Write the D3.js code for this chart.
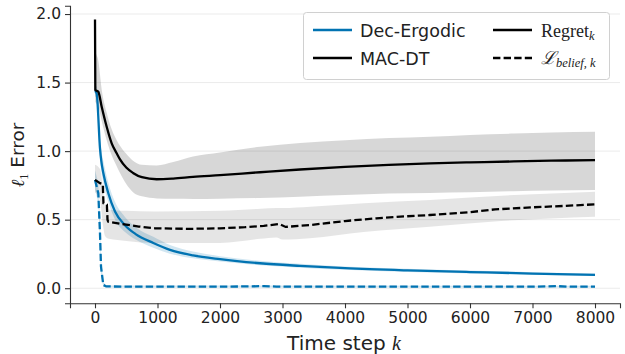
<!DOCTYPE html>
<html>
<head>
<meta charset="utf-8">
<script src="https://cdn.jsdelivr.net/npm/d3@7/dist/d3.min.js"></script>
<style>
  html, body { margin: 0; padding: 0; background: #fff; }
  svg { display: block; }
  .tick text { font-family: "DejaVu Sans", sans-serif; }
</style>
</head>
<body>
<svg id="chart" width="625" height="354"></svg>
<script>
// ---- data ----
// MAC-DT regret (mean, with band)
const kMacRegret = [0, 5, 53, 107, 187, 267, 347, 400, 500, 608, 750, 987, 1250, 1568, 2000, 2640, 3280, 4000, 4700, 5360, 6000, 6700, 7300, 8000];
const macRegret  = [1.96, 1.446, 1.433, 1.324, 1.178, 1.057, 0.984, 0.94, 0.88, 0.841, 0.81, 0.795, 0.80, 0.812, 0.825, 0.846, 0.866, 0.885, 0.90, 0.911, 0.918, 0.925, 0.93, 0.935];
const macRegretLo = [1.96, 1.36, 1.33, 1.22, 1.08, 0.97, 0.89, 0.84, 0.76, 0.70, 0.67, 0.655, 0.652, 0.651, 0.653, 0.658, 0.668, 0.68, 0.69, 0.695, 0.70, 0.708, 0.713, 0.717];
const macRegretHi = [1.96, 1.74, 1.66, 1.45, 1.28, 1.16, 1.08, 1.04, 0.98, 0.93, 0.90, 0.895, 0.92, 0.96, 0.99, 1.032, 1.06, 1.08, 1.095, 1.105, 1.118, 1.128, 1.136, 1.142];

// MAC-DT belief loss
const kMacBelief = [0, 80, 125, 135, 190, 200, 210, 400, 700, 960, 1500, 2000, 2400, 2700, 2950, 3050, 3440, 4000, 4500, 5000, 5360, 6000, 6400, 7000, 7500, 8000];
const macBelief  = [0.79, 0.766, 0.76, 0.62, 0.61, 0.50, 0.486, 0.47, 0.45, 0.437, 0.433, 0.437, 0.445, 0.455, 0.468, 0.447, 0.461, 0.49, 0.51, 0.525, 0.534, 0.555, 0.575, 0.59, 0.60, 0.612];
const kMacBeliefBand = [0, 80, 130, 160, 220, 500, 960, 2000, 2650, 2900, 3000, 3440, 4300, 5360, 6500, 8000];
const macBeliefLo = [0.70, 0.64, 0.45, 0.38, 0.36, 0.345, 0.33, 0.33, 0.36, 0.37, 0.355, 0.365, 0.41, 0.449, 0.49, 0.522];
const macBeliefHi = [0.90, 0.87, 0.72, 0.60, 0.575, 0.565, 0.56, 0.565, 0.58, 0.585, 0.585, 0.595, 0.62, 0.644, 0.675, 0.704];

// Dec-Ergodic regret
const kDecRegret = [0, 27, 80, 100, 133, 213, 320, 480, 650, 933, 1200, 1568, 2000, 2640, 3280, 4000, 5000, 6000, 7000, 8000];
const decRegret  = [1.44, 1.42, 1.02, 0.93, 0.84, 0.693, 0.56, 0.46, 0.395, 0.33, 0.28, 0.24, 0.212, 0.182, 0.163, 0.146, 0.13, 0.118, 0.107, 0.098];
const decRegretLo = [1.40, 1.37, 0.95, 0.86, 0.77, 0.63, 0.50, 0.41, 0.355, 0.295, 0.252, 0.218, 0.194, 0.167, 0.15, 0.134, 0.119, 0.108, 0.098, 0.089];
const decRegretHi = [1.48, 1.47, 1.10, 1.01, 0.93, 0.77, 0.63, 0.52, 0.445, 0.375, 0.315, 0.268, 0.234, 0.2, 0.178, 0.159, 0.142, 0.129, 0.117, 0.108];

// Dec-Ergodic belief loss
const kDecBelief = [0, 53, 80, 96, 133, 180, 500, 1000, 2000, 2700, 2900, 4000, 5000, 6000, 7000, 7400, 7600, 8000];
const decBelief  = [0.79, 0.693, 0.40, 0.157, 0.024, 0.013, 0.012, 0.012, 0.011, 0.015, 0.012, 0.011, 0.011, 0.012, 0.011, 0.015, 0.011, 0.011];
const kDecBeliefBand = [0, 53, 80, 96, 133, 180, 8000];
const decBeliefLo = [0.72, 0.62, 0.32, 0.10, 0.01, 0.005, 0.005];
const decBeliefHi = [0.86, 0.77, 0.50, 0.22, 0.045, 0.02, 0.018];

const yTicks = [0.0, 0.5, 1.0, 1.5, 2.0];
const xTicks = [0, 1000, 2000, 3000, 4000, 5000, 6000, 7000, 8000];

// ---- layout ----
const svg = d3.select("#chart");
const blue = "#0173b2";
const x = d3.scaleLinear().domain([-400, 8400]).range([70, 620]);
const y = d3.scaleLinear().domain([-0.11, 2.06]).range([303.3, 5.8]);

const zip = (ks, vs) => ks.map((k, i) => [k, vs[i]]);
const zipBand = (ks, lo, hi) => ks.map((k, i) => [k, lo[i], hi[i]]);

// horizontal grid
svg.append("g").selectAll("line").data(yTicks).join("line")
  .attr("x1", x.range()[0]).attr("x2", x.range()[1])
  .attr("y1", d => y(d)).attr("y2", d => y(d))
  .attr("stroke", "#ebebeb").attr("stroke-width", 1);

const area = (curve) => d3.area().x(d => x(d[0])).y0(d => y(d[1])).y1(d => y(d[2])).curve(curve);
const line = (curve) => d3.line().x(d => x(d[0])).y(d => y(d[1])).curve(curve);

const plot = svg.append("g");

// bands
plot.append("path").datum(zipBand(kDecRegret, decRegretLo, decRegretHi))
  .attr("d", area(d3.curveMonotoneX)).attr("fill", blue).attr("fill-opacity", 0.18);
plot.append("path").datum(zipBand(kDecBeliefBand, decBeliefLo, decBeliefHi))
  .attr("d", area(d3.curveLinear)).attr("fill", blue).attr("fill-opacity", 0.18);
plot.append("path").datum(zipBand(kMacRegret, macRegretLo, macRegretHi))
  .attr("d", area(d3.curveMonotoneX)).attr("fill", "#000").attr("fill-opacity", 0.155);
plot.append("path").datum(zipBand(kMacBeliefBand, macBeliefLo, macBeliefHi))
  .attr("d", area(d3.curveMonotoneX)).attr("fill", "#000").attr("fill-opacity", 0.1);

// lines
const lw = 2.3;
plot.append("path").datum(zip(kDecRegret, decRegret))
  .attr("d", line(d3.curveMonotoneX)).attr("fill", "none").attr("stroke", blue).attr("stroke-width", lw);
plot.append("path").datum(zip(kDecBelief, decBelief))
  .attr("d", line(d3.curveLinear)).attr("fill", "none").attr("stroke", blue).attr("stroke-width", lw)
  .attr("stroke-dasharray", "7.4,3.2");
plot.append("path").datum(zip(kMacRegret, macRegret))
  .attr("d", line(d3.curveMonotoneX)).attr("fill", "none").attr("stroke", "#000").attr("stroke-width", lw);
plot.append("path").datum(zip(kMacBelief, macBelief))
  .attr("d", line(d3.curveLinear)).attr("fill", "none").attr("stroke", "#000").attr("stroke-width", lw)
  .attr("stroke-dasharray", "7.4,3.2");

// axes
const tickFont = 15.5;
const xAxis = svg.append("g").attr("transform", `translate(0,${y.range()[0]})`)
  .call(d3.axisBottom(x).tickValues(xTicks).tickFormat(d3.format("d")).tickSize(5).tickPadding(4));
const yAxis = svg.append("g").attr("transform", `translate(${x.range()[0]},0)`)
  .call(d3.axisLeft(y).tickValues(yTicks).tickFormat(d3.format(".1f")).tickSize(5).tickPadding(4));
[xAxis, yAxis].forEach(g => {
  g.select(".domain").attr("stroke", "#333").attr("stroke-width", 1.1);
  g.selectAll(".tick line").attr("stroke", "#333").attr("stroke-width", 1.1);
  g.selectAll(".tick text").attr("font-size", tickFont).attr("fill", "#222");
});

// axis labels
const xl = svg.append("text").attr("x", 344).attr("y", 350).attr("text-anchor", "middle")
  .attr("font-family", "DejaVu Sans").attr("font-size", 20).attr("fill", "#222");
xl.append("tspan").text("Time step ");
xl.append("tspan").attr("font-family", "Liberation Serif").attr("font-style", "italic").text("k");

const yl = svg.append("text").attr("transform", "translate(24,155) rotate(-90)").attr("text-anchor", "middle")
  .attr("font-family", "DejaVu Sans").attr("font-size", 18.5).attr("fill", "#222");
yl.append("tspan").attr("font-family", "Liberation Serif").attr("font-style", "italic").text("ℓ");
yl.append("tspan").attr("font-family", "Liberation Serif").attr("font-size", 12).attr("dy", 4).text("1");
yl.append("tspan").attr("dy", -4).text(" Error");

// legend
const leg = svg.append("g");
leg.append("rect").attr("x", 303.5).attr("y", 12.5).attr("width", 306).attr("height", 67).attr("rx", 3)
  .attr("fill", "#fff").attr("fill-opacity", 0.85).attr("stroke", "#d0d0d0").attr("stroke-width", 1);
const legItems = [
  { x: 313, y: 30, color: blue, label: "Dec-Ergodic" },
  { x: 313, y: 58, color: "#000", label: "MAC-DT" },
];
legItems.forEach(it => {
  leg.append("line").attr("x1", it.x).attr("x2", it.x + 39).attr("y1", it.y).attr("y2", it.y)
    .attr("stroke", it.color).attr("stroke-width", lw);
  leg.append("text").attr("x", it.x + 47).attr("y", it.y + 6.5).attr("font-family", "DejaVu Sans")
    .attr("font-size", 17.5).attr("fill", "#222").text(it.label);
});
leg.append("line").attr("x1", 493).attr("x2", 532).attr("y1", 30).attr("y2", 30)
  .attr("stroke", "#000").attr("stroke-width", lw);
leg.append("line").attr("x1", 493).attr("x2", 532).attr("y1", 58).attr("y2", 58)
  .attr("stroke", "#000").attr("stroke-width", lw).attr("stroke-dasharray", "7.4,3.2");
const t1 = leg.append("text").attr("x", 541).attr("y", 36.5).attr("font-family", "Liberation Serif")
  .attr("font-size", 18).attr("fill", "#222");
t1.append("tspan").text("Regret");
t1.append("tspan").attr("font-style", "italic").attr("font-size", 12.5).attr("dy", 3).text("k");
const t2 = leg.append("text").attr("x", 541).attr("y", 64).attr("font-family", "Liberation Serif")
  .attr("font-size", 18).attr("fill", "#222");
t2.append("tspan").attr("font-style", "italic").text("ℒ");
t2.append("tspan").attr("font-style", "italic").attr("font-size", 12.5).attr("dy", 3).text("belief, k");
</script>
</body>
</html>
